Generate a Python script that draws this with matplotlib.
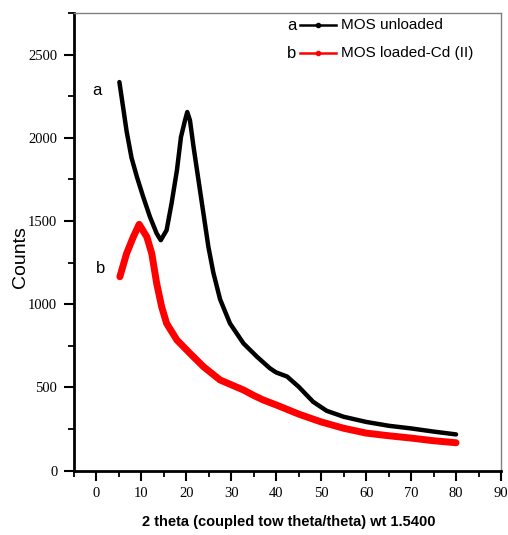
import matplotlib
matplotlib.use("Agg")
import matplotlib.pyplot as plt
from matplotlib.lines import Line2D
import numpy as np

# ---- data ----
x_a = [5.1, 6.0, 6.7, 7.8, 9.0, 10.4, 11.9, 13.4, 14.3, 15.6, 16.7, 17.9, 18.8, 19.7,
       20.2, 20.8, 21.6, 22.7, 23.8, 24.9, 26.0, 27.5, 29.7, 32.7, 35.7, 38.6, 40.0,
       42.4, 45.0, 48.2, 51.2, 55.0, 60.0, 65.0, 70.0, 75.0, 80.0]
y_a = [2335, 2170, 2040, 1880, 1765, 1645, 1525, 1425, 1385, 1445, 1605, 1805, 2005, 2105,
       2155, 2105, 1945, 1745, 1545, 1345, 1190, 1030, 885, 765, 685, 615, 590,
       566, 504, 414, 360, 324, 293, 270, 254, 235, 218]

x_b = [5.2, 6.7, 8.2, 9.5, 11.2, 12.3, 13.4, 14.5, 15.6, 17.9, 20.8, 23.8, 27.5, 32.7,
       35.0, 37.1, 40.0, 45.0, 50.0, 55.0, 60.0, 65.0, 70.0, 75.0, 80.0]
y_b = [1165, 1305, 1405, 1480, 1405, 1305, 1125, 985, 885, 785, 705, 625, 545, 485,
       452, 425, 395, 340, 293, 255, 226, 210, 196, 180, 168]

label_a = "MOS unloaded"
label_b = "MOS loaded-Cd (II)"
xticks = list(range(0, 100, 10))
yticks = [0, 500, 1000, 1500, 2000, 2500]
xlabel = "2 theta (coupled tow theta/theta) wt 1.5400"
ylabel = "Counts"

sans = "Liberation Sans"
serif = "Liberation Serif"

fig = plt.figure(figsize=(5.08, 5.35), dpi=100)
ax = fig.add_axes([74/508, 64.3/535, (501-74)/508, (470.7-13)/535])

ax.plot(x_a, y_a, color="black", lw=3.2, solid_joinstyle="round", solid_capstyle="round")
ax.plot(x_b, y_b, color="#ff0000", lw=5.0, solid_joinstyle="round", solid_capstyle="round")

ax.set_xlim(-5, 90)
ax.set_ylim(0, 2750)
ax.set_xticks(xticks)
ax.set_xticks(np.arange(-5, 91, 5), minor=True)
ax.set_yticks(yticks)
ax.set_yticks(np.arange(0, 2751, 250), minor=True)

for lab in ax.get_xticklabels() + ax.get_yticklabels():
    lab.set_fontfamily(serif)
    lab.set_fontsize(10.5)

ax.tick_params(which="major", direction="out", length=7, width=1.5, pad=5)
ax.tick_params(which="minor", direction="out", length=4, width=1.3)
ax.tick_params(top=False, right=False)

for s in ["left", "bottom"]:
    ax.spines[s].set_linewidth(2.0)
    ax.spines[s].set_color("black")
for s in ["top", "right"]:
    ax.spines[s].set_linewidth(1.0)
    ax.spines[s].set_color("#808080")

fig.text(289/508, 1-522/535, xlabel, ha="center", va="center",
         fontfamily=sans, fontweight="bold", fontsize=10.5)
fig.text(20/508, 1-257/535, ylabel, ha="center", va="center", rotation=90,
         fontfamily=sans, fontsize=14)

ax.text(0.1, 2285, "a", ha="center", va="center", fontfamily=sans, fontsize=12)
ax.text(0.8, 1217, "b", ha="center", va="center", fontfamily=sans, fontsize=12)

# legend drawn manually
for yy, col, lab, let in [(25, "black", label_a, "a"), (53, "#ff0000", label_b, "b")]:
    fy = 1 - yy/535
    fig.add_artist(Line2D([300/508, 336/508], [fy, fy], color=col, lw=1.8,
                          transform=fig.transFigure))
    fig.add_artist(Line2D([318/508], [fy], color=col, marker="o", ms=3,
                          transform=fig.transFigure))
    fig.text(292/508, fy, let, ha="center", va="center", fontfamily=sans, fontsize=12)
    fig.text(341/508, fy, lab, ha="left", va="center", fontfamily=sans, fontsize=11)

fig.savefig("out.png", dpi=100)
